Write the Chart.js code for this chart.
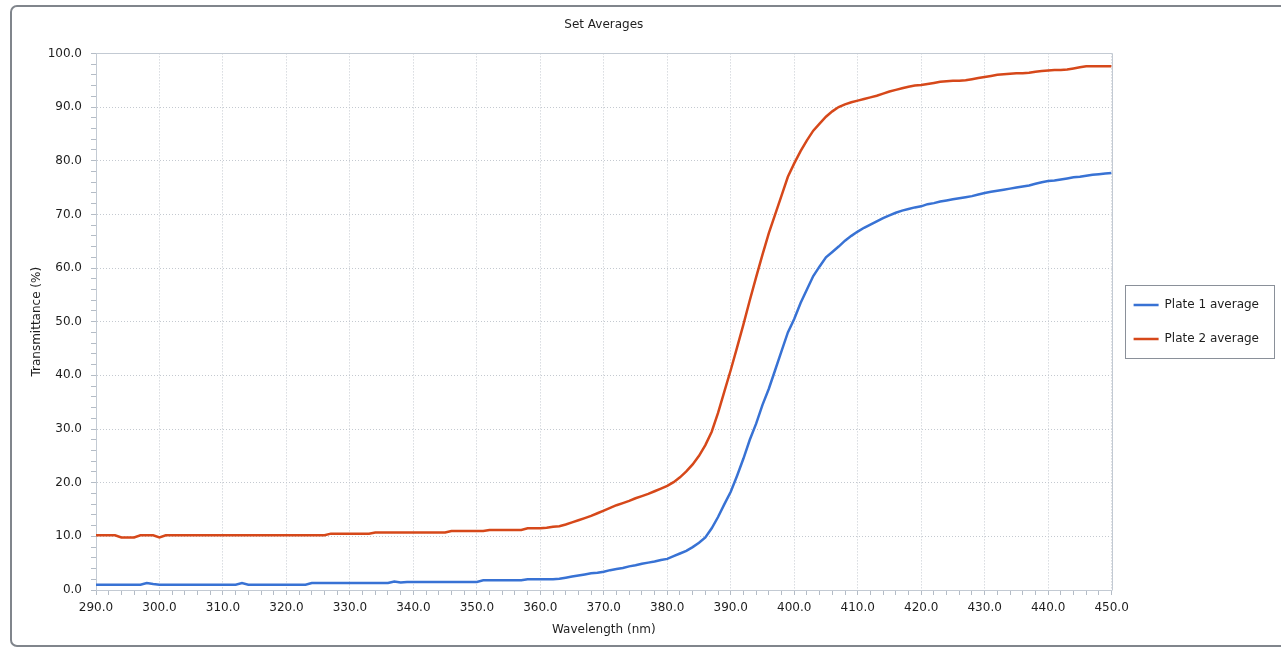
<!DOCTYPE html>
<html>
<head>
<meta charset="utf-8">
<title>Set Averages</title>
<script src="https://cdn.jsdelivr.net/npm/chart.js@4.4.1/dist/chart.umd.min.js"></script>
<style>
html, body { margin: 0; padding: 0; background: #fff; overflow: hidden; }
#frame { position: absolute; left: 10px; top: 5px; width: 1300px; height: 638px;
         border: 2px solid #80858c; border-radius: 7px; }
#chart { position: absolute; left: 0; top: 0; }
</style>
</head>
<body>
<div id="frame"></div>
<canvas id="chart" width="1281" height="648"></canvas>
<script>
// wavelength axis, 1 nm steps
var wavelengths = [];
for (var w = 290; w <= 450; w++) wavelengths.push(w);

var plate1 = [
  1.0, 1.0, 1.0, 1.0, 1.0, 1.0, 1.0, 1.0, 1.3, 1.1,   // 290-299
  1.0, 1.0, 1.0, 1.0, 1.0, 1.0, 1.0, 1.0, 1.0, 1.0,   // 300-309
  1.0, 1.0, 1.0, 1.3, 1.0, 1.0, 1.0, 1.0, 1.0, 1.0,   // 310-319
  1.0, 1.0, 1.0, 1.0, 1.3, 1.3, 1.3, 1.3, 1.3, 1.3,   // 320-329
  1.3, 1.3, 1.3, 1.3, 1.3, 1.3, 1.3, 1.6, 1.4, 1.5,   // 330-339
  1.5, 1.5, 1.5, 1.5, 1.5, 1.5, 1.5, 1.5, 1.5, 1.5,   // 340-349
  1.5, 1.8, 1.8, 1.8, 1.8, 1.8, 1.8, 1.8, 2.0, 2.0,   // 350-359
  2.0, 2.0, 2.0, 2.1, 2.3, 2.5, 2.7, 2.9, 3.1, 3.2,   // 360-369
  3.4, 3.7, 3.9, 4.1, 4.4, 4.6, 4.9, 5.1, 5.3, 5.6,   // 370-379
  5.8, 6.3, 6.8, 7.3, 8.0, 8.8, 9.8, 11.5, 13.6, 16.0, // 380-389
  18.3, 21.3, 24.5, 28.0, 31.0, 34.5, 37.5, 41.0, 44.5, 48.0, // 390-399
  50.5, 53.5, 56.0, 58.5, 60.3, 62.0, 63.0, 64.0, 65.1, 66.0, // 400-409
  66.8, 67.5, 68.1, 68.7, 69.3, 69.8, 70.3, 70.7, 71.0, 71.3, // 410-419
  71.5, 71.9, 72.1, 72.4, 72.6, 72.8, 73.0, 73.2, 73.4, 73.7, // 420-429
  74.0, 74.2, 74.4, 74.6, 74.8, 75.0, 75.2, 75.4, 75.7, 76.0, // 430-439
  76.2, 76.3, 76.5, 76.7, 76.9, 77.0, 77.2, 77.4, 77.5, 77.6, // 440-449
  77.7                                                        // 450
];

var plate2 = [
  10.2, 10.2, 10.2, 10.2, 9.8, 9.8, 9.8, 10.2, 10.2, 10.2,   // 290-299
  9.8, 10.2, 10.2, 10.2, 10.2, 10.2, 10.2, 10.2, 10.2, 10.2,  // 300-309
  10.2, 10.2, 10.2, 10.2, 10.2, 10.2, 10.2, 10.2, 10.2, 10.2, // 310-319
  10.2, 10.2, 10.2, 10.2, 10.2, 10.2, 10.2, 10.5, 10.5, 10.5, // 320-329
  10.5, 10.5, 10.5, 10.5, 10.7, 10.7, 10.7, 10.7, 10.7, 10.7, // 330-339
  10.7, 10.7, 10.7, 10.7, 10.7, 10.7, 11.0, 11.0, 11.0, 11.0, // 340-349
  11.0, 11.0, 11.2, 11.2, 11.2, 11.2, 11.2, 11.2, 11.5, 11.5, // 350-359
  11.5, 11.6, 11.8, 11.9, 12.2, 12.6, 13.0, 13.4, 13.8, 14.3, // 360-369
  14.8, 15.3, 15.8, 16.2, 16.6, 17.1, 17.5, 17.9, 18.4, 18.9, // 370-379
  19.4, 20.1, 21.0, 22.1, 23.4, 25.0, 27.0, 29.5, 33.0, 37.0, // 380-389
  41.0, 45.2, 49.5, 54.0, 58.3, 62.5, 66.5, 70.0, 73.5, 77.0, // 390-399
  79.5, 81.8, 83.8, 85.6, 86.9, 88.2, 89.2, 90.0, 90.5, 90.9, // 400-409
  91.2, 91.5, 91.8, 92.1, 92.5, 92.9, 93.2, 93.5, 93.8, 94.0, // 410-419
  94.1, 94.3, 94.5, 94.7, 94.8, 94.9, 94.9, 95.0, 95.2, 95.4, // 420-429
  95.6, 95.8, 96.0, 96.1, 96.2, 96.3, 96.3, 96.4, 96.6, 96.7, // 430-439
  96.8, 96.9, 96.9, 97.0, 97.2, 97.4, 97.6, 97.6, 97.6, 97.6, // 440-449
  97.6                                                        // 450
];

var seriesNames = ["Plate 1 average", "Plate 2 average"];
var seriesColors = ["#3872d4", "#d6481a"];

var xRange = [290, 450];
var yRange = [0, 100];
var minorStep = 2;
var majorStep = 10;

function toPoints(values) {
  return values.map(function (v, i) { return { x: wavelengths[i], y: v }; });
}

function majorLabel(value) {
  return value % majorStep === 0 ? value.toFixed(1) : '';
}

var gridColor = function (ctx) {
  return ctx.tick && ctx.tick.value % majorStep === 0 ? '#c4c9d0' : 'rgba(0,0,0,0)';
};

// top/right edges of the plot box and the framed legend
var framePlugin = {
  id: 'frames',
  afterDraw: function (chart) {
    var c = chart.ctx, a = chart.chartArea;
    c.save();
    c.strokeStyle = '#c3cad3';
    c.lineWidth = 1;
    c.beginPath();
    c.moveTo(Math.round(a.left) + 0.5, Math.round(a.top) + 0.5);
    c.lineTo(Math.round(a.right) + 0.5, Math.round(a.top) + 0.5);
    c.lineTo(Math.round(a.right) + 0.5, Math.round(a.bottom) + 0.5);
    c.stroke();

    var hb = chart.legend.legendHitBoxes;
    if (hb && hb.length) {
      var first = hb[0], last = hb[hb.length - 1];
      var right = 0;
      hb.forEach(function (h) { right = Math.max(right, h.left + h.width); });
      var x0 = Math.round(first.left - 9) + 0.5;
      var y0 = Math.round(first.top + first.height / 2 - 20) + 0.5;
      var x1 = Math.round(right + 15) + 0.5;
      var y1 = Math.round(last.top + last.height / 2 + 19) + 0.5;
      c.strokeStyle = '#8a9099';
      c.strokeRect(x0, y0, x1 - x0, y1 - y0);
    }
    c.restore();
  }
};

Chart.defaults.font.family = '"DejaVu Sans", Verdana, sans-serif';
Chart.defaults.font.size = 12;
Chart.defaults.color = '#1e1e1e';

var ctx = document.getElementById('chart');
var chart = new Chart(ctx, {
  type: 'line',
  data: {
    datasets: [{
      label: seriesNames[0],
      data: toPoints(plate1),
      borderColor: seriesColors[0],
      backgroundColor: seriesColors[0],
      borderWidth: 2.5,
      pointRadius: 0,
      tension: 0,
      fill: false
    }, {
      label: seriesNames[1],
      data: toPoints(plate2),
      borderColor: seriesColors[1],
      backgroundColor: seriesColors[1],
      borderWidth: 2.5,
      pointRadius: 0,
      tension: 0,
      fill: false
    }]
  },
  options: {
    responsive: false,
    animation: false,
    devicePixelRatio: 1,
    events: [],
    layout: { padding: { left: 10, top: 0, right: 12, bottom: 4 } },
    plugins: {
      title: {
        display: true,
        text: 'Set Averages',
        fullSize: false,
        color: '#1e1e1e',
        font: { size: 12, weight: 'normal' },
        padding: { top: 18, bottom: 21 }
      },
      legend: {
        position: 'right',
        labels: {
          usePointStyle: true,
          pointStyle: 'line',
          pointStyleWidth: 25,
          padding: 22,
          color: '#1e1e1e',
          font: { size: 12 }
        }
      },
      tooltip: { enabled: false }
    },
    scales: {
      x: {
        type: 'linear',
        min: xRange[0],
        max: xRange[1],
        afterFit: function (scale) { scale.height = 54; },
        ticks: {
          stepSize: minorStep,
          autoSkip: false,
          maxRotation: 0,
          padding: 6,
          callback: majorLabel
        },
        grid: { color: gridColor, tickColor: '#b4bcc6', tickLength: 5 },
        border: { display: true, color: '#c3cad3', dash: [1, 2] },
        title: { display: true, text: 'Wavelength (nm)', padding: { top: 0, bottom: 7 } }
      },
      y: {
        min: yRange[0],
        max: yRange[1],
        afterFit: function (scale) { scale.width = 86; },
        ticks: {
          stepSize: minorStep,
          autoSkip: false,
          padding: 9,
          callback: majorLabel
        },
        grid: { color: gridColor, tickColor: '#b4bcc6', tickLength: 5 },
        border: { display: true, color: '#c3cad3', dash: [1, 2] },
        title: { display: true, text: 'Transmittance (%)', padding: { top: 20, bottom: 0 } }
      }
    }
  },
  plugins: [framePlugin]
});
</script>
</body>
</html>
